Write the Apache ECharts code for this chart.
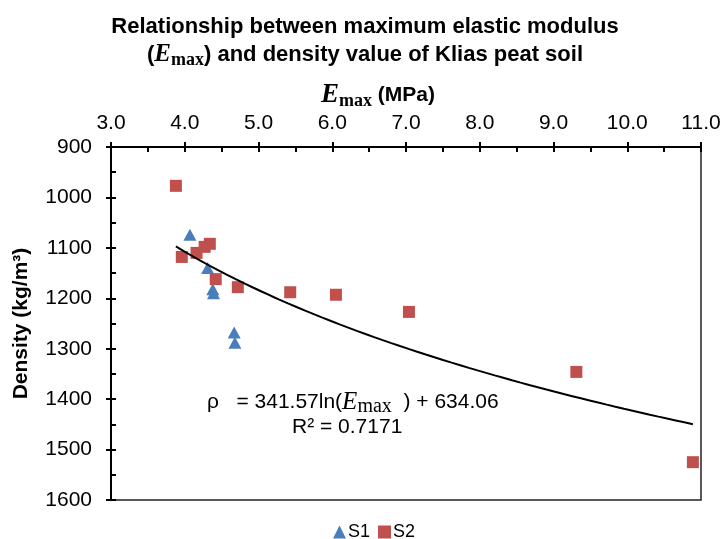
<!DOCTYPE html>
<html>
<head>
<meta charset="utf-8">
<script src="https://cdn.jsdelivr.net/npm/echarts@6/dist/echarts.min.js"></script>
<style>html,body{margin:0;padding:0;background:#fff;}#c{width:723px;height:539px;}</style>
</head>
<body>
<div id="c"></div>
<script>
// Data
var s1Points = [[4.07,1074],[4.31,1140],[4.38,1182],[4.39,1190],[4.67,1268],[4.68,1288]];
var s2Points = [[3.88,977],[3.96,1118],[4.16,1110],[4.27,1098],[4.34,1092],[4.42,1162],[4.72,1178],[5.43,1188],[6.05,1193],[7.04,1227],[9.31,1346],[10.89,1525]];
var xTicks = {min:3, max:11, interval:1};
var yTicks = {min:900, max:1600, interval:100};
// Logarithmic trendline shown on the chart: rho = 341.57 ln(E) + 634.06
var trendA = 341.57, trendB = 634.06, trendXMin = 3.88, trendXMax = 10.89;
var trend = [];
for (var i = 0; i <= 60; i++) {
  var e = trendXMin + (trendXMax - trendXMin) * i / 60;
  trend.push([e, trendA * Math.log(e) + trendB]);
}

var chart = echarts.init(document.getElementById('c'));
var sans = 'Liberation Sans, Arial, sans-serif';
var serif = 'Liberation Serif, Times New Roman, serif';

function xAxisBase(inside) {
  return {
    type:'value', position:'top', min:xTicks.min, max:xTicks.max, interval:xTicks.interval,
    axisLine:{show:true, onZero:false, lineStyle:{color:'#000', width:2}},
    axisTick:{show:true, inside:inside, length:5, lineStyle:{color:'#000', width:2}},
    minorTick:{show:inside, splitNumber:2, length:5, lineStyle:{color:'#000', width:2}},
    splitLine:{show:false}, minorSplitLine:{show:false}
  };
}
function yAxisBase(inside) {
  return {
    type:'value', position:'left', inverse:true, min:yTicks.min, max:yTicks.max, interval:yTicks.interval,
    axisLine:{show:true, onZero:false, lineStyle:{color:'#000', width:2}},
    axisTick:{show:true, inside:inside, length:5, lineStyle:{color:'#000', width:2}},
    minorTick:{show:inside, splitNumber:2, length:5, lineStyle:{color:'#000', width:2}},
    splitLine:{show:false}, minorSplitLine:{show:false}
  };
}
var x0 = xAxisBase(false);
x0.axisLabel = {show:true, margin:13, color:'#000', fontSize:21, fontFamily:sans, formatter:function(v){return v.toFixed(1);}};
x0.name = '{e|E}{s|max}{n| (MPa)}';
x0.nameLocation = 'middle';
x0.nameGap = 37;
x0.nameMoveOverlap = false;
x0.nameTextStyle = {padding:[0,56,0,0], rich:{
  e:{fontFamily:serif, fontStyle:'italic', fontWeight:'bold', fontSize:27, color:'#000'},
  s:{fontFamily:serif, fontWeight:'bold', fontSize:18, color:'#000', padding:[12,0,0,0]},
  n:{fontFamily:sans, fontWeight:'bold', fontSize:21, color:'#000'}
}};
var x1 = xAxisBase(true);
x1.axisLabel = {show:false};

var y0 = yAxisBase(false);
y0.axisLabel = {show:true, margin:19, color:'#000', fontSize:21, fontFamily:sans, formatter:function(v){return String(v);}};
y0.name = 'Density (kg/m³)';
y0.nameLocation = 'middle';
y0.nameGap = 79;
y0.nameMoveOverlap = false;
y0.nameTextStyle = {fontFamily:sans, fontWeight:'bold', fontSize:21, color:'#000'};
var y1 = yAxisBase(true);
y1.axisLabel = {show:false};

chart.setOption({
  backgroundColor:'#fff',
  animation:false,
  title:{
    left:360, textAlign:'center', top:8,
    text:'{b|Relationship between maximum elastic modulus}\n{b|(}{e|E}{s|max}{b|) and density value of Klias peat soil}',
    textStyle:{rich:{
      b:{fontFamily:sans, fontWeight:'bold', fontSize:22, color:'#000', lineHeight:28},
      e:{fontFamily:serif, fontStyle:'italic', fontWeight:'bold', fontSize:25, color:'#000', lineHeight:28},
      s:{fontFamily:serif, fontWeight:'bold', fontSize:18, color:'#000', lineHeight:28, padding:[11,0,0,0]}
    }}
  },
  grid:{left:111, top:147, right:22, bottom:39, show:true, borderColor:'#222', borderWidth:1.5, containLabel:false, outerBoundsMode:'none'},
  xAxis:[x0, x1],
  yAxis:[y0, y1],
  legend:{
    left:328, top:518, itemWidth:13, itemHeight:13, itemGap:8,
    textStyle:{fontFamily:sans, fontSize:18, color:'#000', padding:[0,0,0,-3]},
    data:[{name:'S1', icon:'triangle'},{name:'S2', icon:'rect'}]
  },
  graphic:[{
    type:'text', left:207, top:388,
    style:{
      text:'{t|ρ   = 341.57ln(}{e|E}{s|max}{t|  ) + 634.06}\n{c|R² = 0.7171}',
      rich:{
        t:{fontFamily:sans, fontSize:21, fill:'#000', lineHeight:25},
        e:{fontFamily:serif, fontStyle:'italic', fontSize:25, fill:'#000', lineHeight:25},
        s:{fontFamily:serif, fontSize:20, fill:'#000', lineHeight:25, padding:[9,0,0,0]},
        c:{fontFamily:sans, fontSize:21, fill:'#000', lineHeight:25, padding:[0,0,0,85]}
      }
    }
  }],
  series:[
    {name:'Trend', type:'line', xAxisIndex:0, yAxisIndex:0, data:trend, showSymbol:false, symbol:'none',
     lineStyle:{color:'#000', width:2}, z:3, silent:true},
    {name:'S1', type:'scatter', xAxisIndex:0, yAxisIndex:0, data:s1Points, symbol:'triangle', symbolSize:[13,12],
     itemStyle:{color:'#4a7ebb', opacity:1}, z:2},
    {name:'S2', type:'scatter', xAxisIndex:0, yAxisIndex:0, data:s2Points, symbol:'rect', symbolSize:12,
     itemStyle:{color:'#c0504d', opacity:1}, z:2}
  ]
});
</script>
</body>
</html>
